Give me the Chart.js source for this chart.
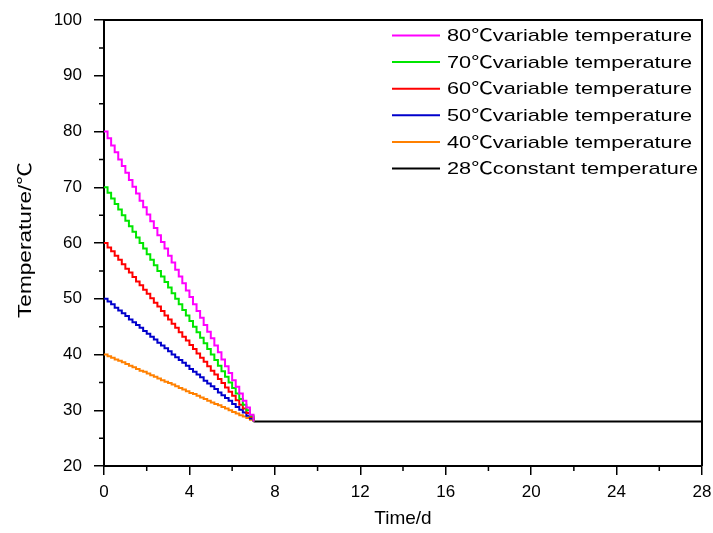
<!DOCTYPE html>
<html>
<head>
<meta charset="utf-8">
<script src="https://cdn.jsdelivr.net/npm/chart.js@4.4.1/dist/chart.umd.min.js"></script>
<style>
html,body{margin:0;padding:0;background:#fff;}
#wrap{width:713px;height:533px;position:relative;}
</style>
</head>
<body>
<div id="wrap"><canvas id="c" width="713" height="533"></canvas></div>
<script>
// ---- data ----
const seriesLabels = [
  '80℃variable temperature',
  '70℃variable temperature',
  '60℃variable temperature',
  '50℃variable temperature',
  '40℃variable temperature',
  '28℃constant temperature'
];
const seriesColors = ['#ff00ff', '#00e600', '#ff0000', '#0000cc', '#ff8000', '#000000'];
// time of each control step during the 7-day cooling period (hours)
const stepHours = [0,4,8,12,16,20,24,28,32,36,40,44,48,52,56,60,64,68,72,76,80,84,88,92,96,100,104,108,112,116,120,124,128,132,136,140,144,148,152,156,160,164,168];
// temperature at each step (℃)
const temp80 = [80.0,78.8,77.5,76.3,75.0,73.8,72.6,71.3,70.1,68.9,67.6,66.4,65.1,63.9,62.7,61.4,60.2,59.0,57.7,56.5,55.2,54.0,52.8,51.5,50.3,49.0,47.8,46.6,45.3,44.1,42.9,41.6,40.4,39.1,37.9,36.7,35.4,34.2,33.0,31.7,30.5,29.2,28.0];
const temp70 = [70,69,68,67,66,65,64,63,62,61,60,59,58,57,56,55,54,53,52,51,50,49,48,47,46,45,44,43,42,41,40,39,38,37,36,35,34,33,32,31,30,29,28];
const temp60 = [60.0,59.2,58.5,57.7,57.0,56.2,55.4,54.7,53.9,53.1,52.4,51.6,50.9,50.1,49.3,48.6,47.8,47.0,46.3,45.5,44.8,44.0,43.2,42.5,41.7,41.0,40.2,39.4,38.7,37.9,37.1,36.4,35.6,34.9,34.1,33.3,32.6,31.8,31.0,30.3,29.5,28.8,28.0];
const temp50 = [50.0,49.5,49.0,48.4,47.9,47.4,46.9,46.3,45.8,45.3,44.8,44.2,43.7,43.2,42.7,42.1,41.6,41.1,40.6,40.0,39.5,39.0,38.5,38.0,37.4,36.9,36.4,35.9,35.3,34.8,34.3,33.8,33.2,32.7,32.2,31.7,31.1,30.6,30.1,29.6,29.0,28.5,28.0];
const temp40 = [40.0,39.7,39.4,39.1,38.9,38.6,38.3,38.0,37.7,37.4,37.1,36.9,36.6,36.3,36.0,35.7,35.4,35.1,34.9,34.6,34.3,34.0,33.7,33.4,33.1,32.9,32.6,32.3,32.0,31.7,31.4,31.1,30.9,30.6,30.3,30.0,29.7,29.4,29.1,28.9,28.6,28.3,28.0];
const constDays = [7, 28];
const constTemp = [28, 28];
const xTicks = [0, 4, 8, 12, 16, 20, 24, 28];
const yTicks = [20, 30, 40, 50, 60, 70, 80, 90, 100];
const xMinorTicks = [2, 6, 10, 14, 18, 22, 26];
const yMinorTicks = [25, 35, 45, 55, 65, 75, 85, 95];
const xTitle = 'Time/d';
const yTitle = 'Temperature/℃';

// ---- build datasets ----
const varSeries = [temp80, temp70, temp60, temp50, temp40];
const datasets = varSeries.map((temps, k) => ({
  label: seriesLabels[k],
  data: temps.map((t, i) => ({ x: stepHours[i] / 24, y: t })),
  borderColor: seriesColors[k],
  backgroundColor: seriesColors[k],
  borderWidth: 2,
  pointRadius: 0,
  stepped: 'before',
  fill: false
}));
datasets.push({
  label: seriesLabels[5],
  data: constDays.map((d, i) => ({ x: d, y: constTemp[i] })),
  borderColor: seriesColors[5],
  backgroundColor: seriesColors[5],
  borderWidth: 2,
  pointRadius: 0,
  fill: false
});

const FONT = "'Liberation Sans', Arial, 'Noto Sans CJK SC', sans-serif";

function stretchedText(ctx, text, x, y, targetWidth) {
  const w = ctx.measureText(text).width;
  const s = targetWidth / w;
  ctx.save();
  ctx.translate(x, y);
  ctx.scale(s, 1);
  ctx.fillText(text, 0, 0);
  ctx.restore();
}

const framePlugin = {
  id: 'frame',
  afterDraw(chart) {
    const ctx = chart.ctx;
    const a = chart.chartArea;
    const xs = chart.scales.x, ys = chart.scales.y;
    ctx.save();
    ctx.strokeStyle = '#000';
    ctx.lineWidth = 2;
    ctx.beginPath();
    ctx.moveTo(a.left, a.top); ctx.lineTo(a.right, a.top); ctx.lineTo(a.right, a.bottom);
    ctx.stroke();
    // minor ticks
    ctx.lineWidth = 1.5;
    ctx.beginPath();
    yMinorTicks.forEach(v => {
      const y = ys.getPixelForValue(v);
      ctx.moveTo(a.left - 5, y); ctx.lineTo(a.left, y);
    });
    xMinorTicks.forEach(v => {
      const x = xs.getPixelForValue(v);
      ctx.moveTo(x, a.bottom); ctx.lineTo(x, a.bottom + 5);
    });
    ctx.stroke();
    ctx.fillStyle = '#000';
    // axis titles
    ctx.font = '19px ' + FONT;
    ctx.textBaseline = 'middle';
    ctx.textAlign = 'left';
    const xw = ctx.measureText(xTitle).width;
    ctx.fillText(xTitle, (a.left + a.right) / 2 - xw / 2, 519);
    ctx.save();
    ctx.font = '18px ' + FONT;
    ctx.translate(26, 318);
    ctx.rotate(-Math.PI / 2);
    stretchedText(ctx, yTitle, 0, 0, 156);
    ctx.restore();
    // legend
    ctx.font = '17px ' + FONT;
    const lx0 = 392, lx1 = 440, tx = 447, y0 = 35.5, dy = 26.6;
    const scale = 245 / ctx.measureText(seriesLabels[0]).width;
    chart.data.datasets.forEach((ds, i) => {
      const y = y0 + i * dy;
      ctx.strokeStyle = ds.borderColor;
      ctx.lineWidth = 2;
      ctx.beginPath(); ctx.moveTo(lx0, y); ctx.lineTo(lx1, y); ctx.stroke();
      ctx.save();
      ctx.translate(tx, y + 1);
      ctx.scale(scale, 1);
      ctx.fillText(ds.label, 0, 0);
      ctx.restore();
    });
    ctx.restore();
  }
};

new Chart(document.getElementById('c'), {
  type: 'line',
  data: { datasets },
  options: {
    responsive: false,
    animation: false,
    layout: { padding: { top: 20, right: 11, left: 0, bottom: 0 } },
    plugins: { legend: { display: false }, tooltip: { enabled: false } },
    scales: {
      x: {
        type: 'linear', min: 0, max: 28,
        afterFit(s) { s.height = 67; s.paddingLeft = 0; s.paddingRight = 0; },
        afterBuildTicks(s) { s.ticks = xTicks.map(v => ({ value: v })); },
        grid: { display: true, drawOnChartArea: false, drawTicks: true, tickLength: 9, color: '#000', lineWidth: 1.5 },
        border: { display: true, color: '#000', width: 2 },
        ticks: { color: '#000', font: { family: FONT, size: 17 }, padding: 7, maxRotation: 0 },
        title: { display: false }
      },
      y: {
        type: 'linear', min: 20, max: 100,
        afterFit(s) { s.width = 104; s.paddingTop = 0; s.paddingBottom = 0; },
        afterBuildTicks(s) { s.ticks = yTicks.map(v => ({ value: v })); },
        grid: { display: true, drawOnChartArea: false, drawTicks: true, tickLength: 10, color: '#000', lineWidth: 1.5 },
        border: { display: true, color: '#000', width: 2 },
        ticks: { color: '#000', font: { family: FONT, size: 17 }, padding: 12 },
        title: { display: false }
      }
    }
  },
  plugins: [framePlugin]
});
</script>
</body>
</html>
